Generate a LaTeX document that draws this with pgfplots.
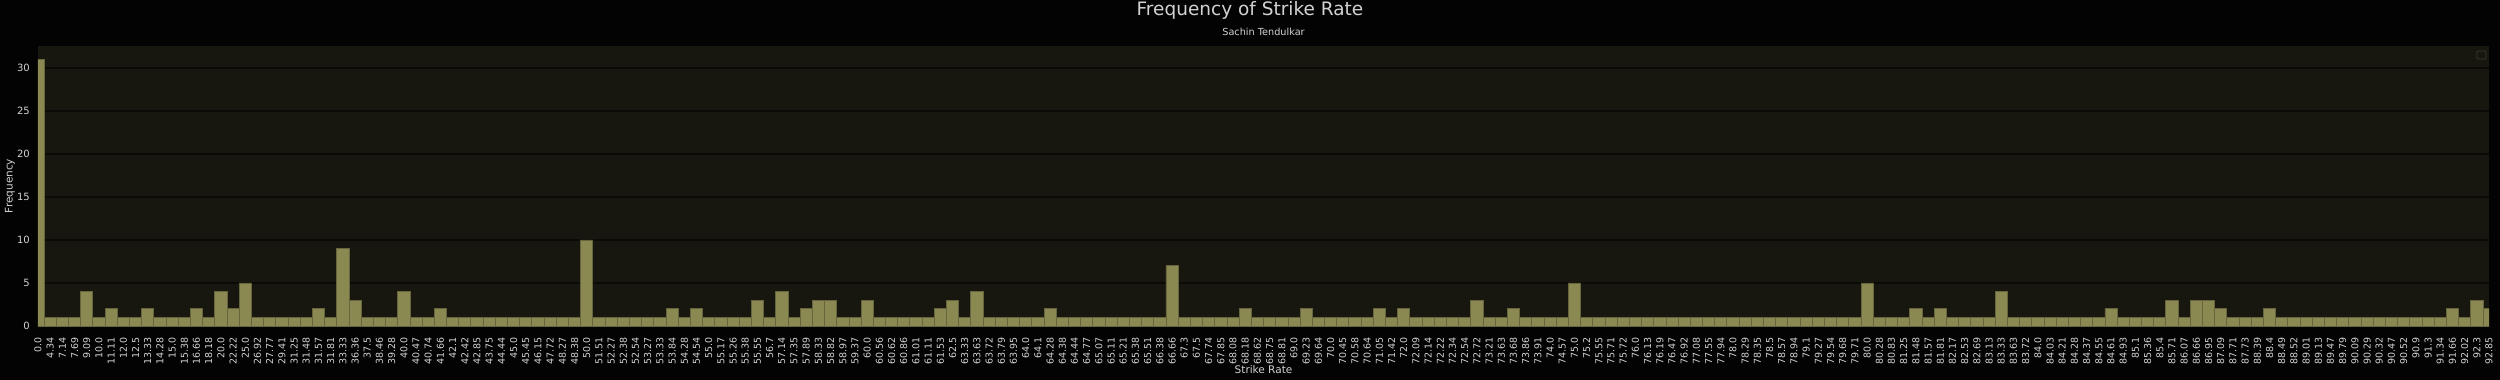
\documentclass[border=0pt]{standalone}
\usepackage{pgfplots}
\pgfplotsset{compat=1.18}
\usepackage{pgfplotstable}
\usepackage{fontspec}
\setmainfont{DejaVu Sans}
\definecolor{figbg}{HTML}{030303}
\definecolor{axbg}{HTML}{17160F}
\definecolor{gridc}{HTML}{0A0A07}
\definecolor{barf}{HTML}{8A8952}
\definecolor{bare}{HTML}{66653D}
\definecolor{txt}{HTML}{D2D2D2}
\definecolor{legc}{HTML}{3A3A32}

\pgfplotstableread{
sr f
0.0 31
4.34 1
7.14 1
7.69 1
9.09 4
10.0 1
11.11 2
12.0 1
12.5 1
13.33 2
14.28 1
15.0 1
15.38 1
16.66 2
18.18 1
20.0 4
22.22 2
25.0 5
26.92 1
27.77 1
29.41 1
31.25 1
31.48 1
31.57 2
31.81 1
33.33 9
36.36 3
37.5 1
38.46 1
39.28 1
40.0 4
40.47 1
40.74 1
41.66 2
42.1 1
42.42 1
42.85 1
43.75 1
44.44 1
45.0 1
45.45 1
46.15 1
47.72 1
48.27 1
48.38 1
50.0 10
51.51 1
52.27 1
52.38 1
52.54 1
53.27 1
53.33 1
53.84 2
54.28 1
54.54 2
55.0 1
55.17 1
55.26 1
55.38 1
55.55 3
56.7 1
57.14 4
57.35 1
57.89 2
58.33 3
58.82 3
58.97 1
59.37 1
60.0 3
60.56 1
60.62 1
60.86 1
61.01 1
61.11 1
61.53 2
62.5 3
63.33 1
63.63 4
63.72 1
63.79 1
63.95 1
64.0 1
64.1 1
64.28 2
64.38 1
64.44 1
64.77 1
65.07 1
65.11 1
65.21 1
65.38 1
65.51 1
66.38 1
66.66 7
67.3 1
67.5 1
67.74 1
67.85 1
68.08 1
68.18 2
68.62 1
68.75 1
68.81 1
69.0 1
69.23 2
69.64 1
70.0 1
70.45 1
70.58 1
70.64 1
71.05 2
71.42 1
72.0 2
72.09 1
72.14 1
72.22 1
72.34 1
72.54 1
72.72 3
73.21 1
73.63 1
73.68 2
73.86 1
73.91 1
74.0 1
74.57 1
75.0 5
75.2 1
75.55 1
75.71 1
75.72 1
76.0 1
76.13 1
76.19 1
76.47 1
76.92 1
77.08 1
77.55 1
77.94 1
78.0 1
78.29 1
78.35 1
78.5 1
78.57 1
78.94 1
79.1 1
79.27 1
79.54 1
79.68 1
79.71 1
80.0 5
80.28 1
80.83 1
81.25 1
81.48 2
81.57 1
81.81 2
82.17 1
82.53 1
82.69 1
83.13 1
83.33 4
83.63 1
83.72 1
84.0 1
84.03 1
84.21 1
84.28 1
84.37 1
84.55 1
84.61 2
84.93 1
85.1 1
85.36 1
85.4 1
85.71 3
86.07 1
86.66 3
86.95 3
87.09 2
87.71 1
87.73 1
88.39 1
88.4 2
88.49 1
88.52 1
89.01 1
89.13 1
89.47 1
89.79 1
90.09 1
90.29 1
90.32 1
90.47 1
90.52 1
90.9 1
91.3 1
91.34 1
91.66 2
92.02 1
92.3 3
92.85 2
}\data

\begin{document}
\begin{tikzpicture}
\fill[figbg] (-38pt,-54pt) rectangle (2462pt,326pt);
\begin{axis}[
  at={(0pt,0pt)}, anchor=south west,
  scale only axis,
  width=2451pt, height=280pt,
  xmin=0, xmax=201, ymin=0, ymax=32.55,
  enlargelimits=false,
  axis background/.style={fill=axbg},
  axis line style={draw=none},
  major tick length=0pt,
  xtick={0,1,...,201},
  xticklabels from table={\data}{sr},
  ytick={0,5,...,30},
  ymajorgrids=true,
  grid style={draw=gridc, line width=1.2pt},
  xticklabel style={rotate=90, anchor=east, inner sep=0pt, font=\fontsize{9.5}{10}\selectfont, text=txt},
  yticklabel style={anchor=east, inner sep=0pt, font=\fontsize{10}{11}\selectfont, text=txt},
  xticklabel shift=11pt,
  yticklabel shift=8pt,
  /pgf/number format/assume math mode=true,
  xlabel={Strike Rate},
  ylabel={Frequency},
  xlabel style={at={(axis description cs:0.5,-0.1571)}, anchor=center, font=\fontsize{10.5}{12}\selectfont, text=txt},
  ylabel style={at={(axis description cs:-0.011424,0.5)}, anchor=center, rotate=0, font=\fontsize{10.5}{12}\selectfont, text=txt},
  title={Sachin Tendulkar},
  title style={at={(axis description cs:0.5,1.02857)}, anchor=center, font=\fontsize{9.7}{11}\selectfont, text=txt},
  ybar, bar width=1,
]
\addplot[fill=barf, draw=bare, line width=0.8pt] table[x expr=\coordindex, y=f] {\data};
\end{axis}
\draw[legc, line width=0.8pt, rounded corners=1.2pt] (2439pt,267pt) rectangle (2448pt,275pt);
\node[text=txt, font=\fontsize{18.5}{20}\selectfont] at (1212pt,316pt) {Frequency of Strike Rate};
\pgfresetboundingbox
\path[use as bounding box] (-38pt,-54pt) rectangle (2462pt,326pt);
\end{tikzpicture}
\end{document}
